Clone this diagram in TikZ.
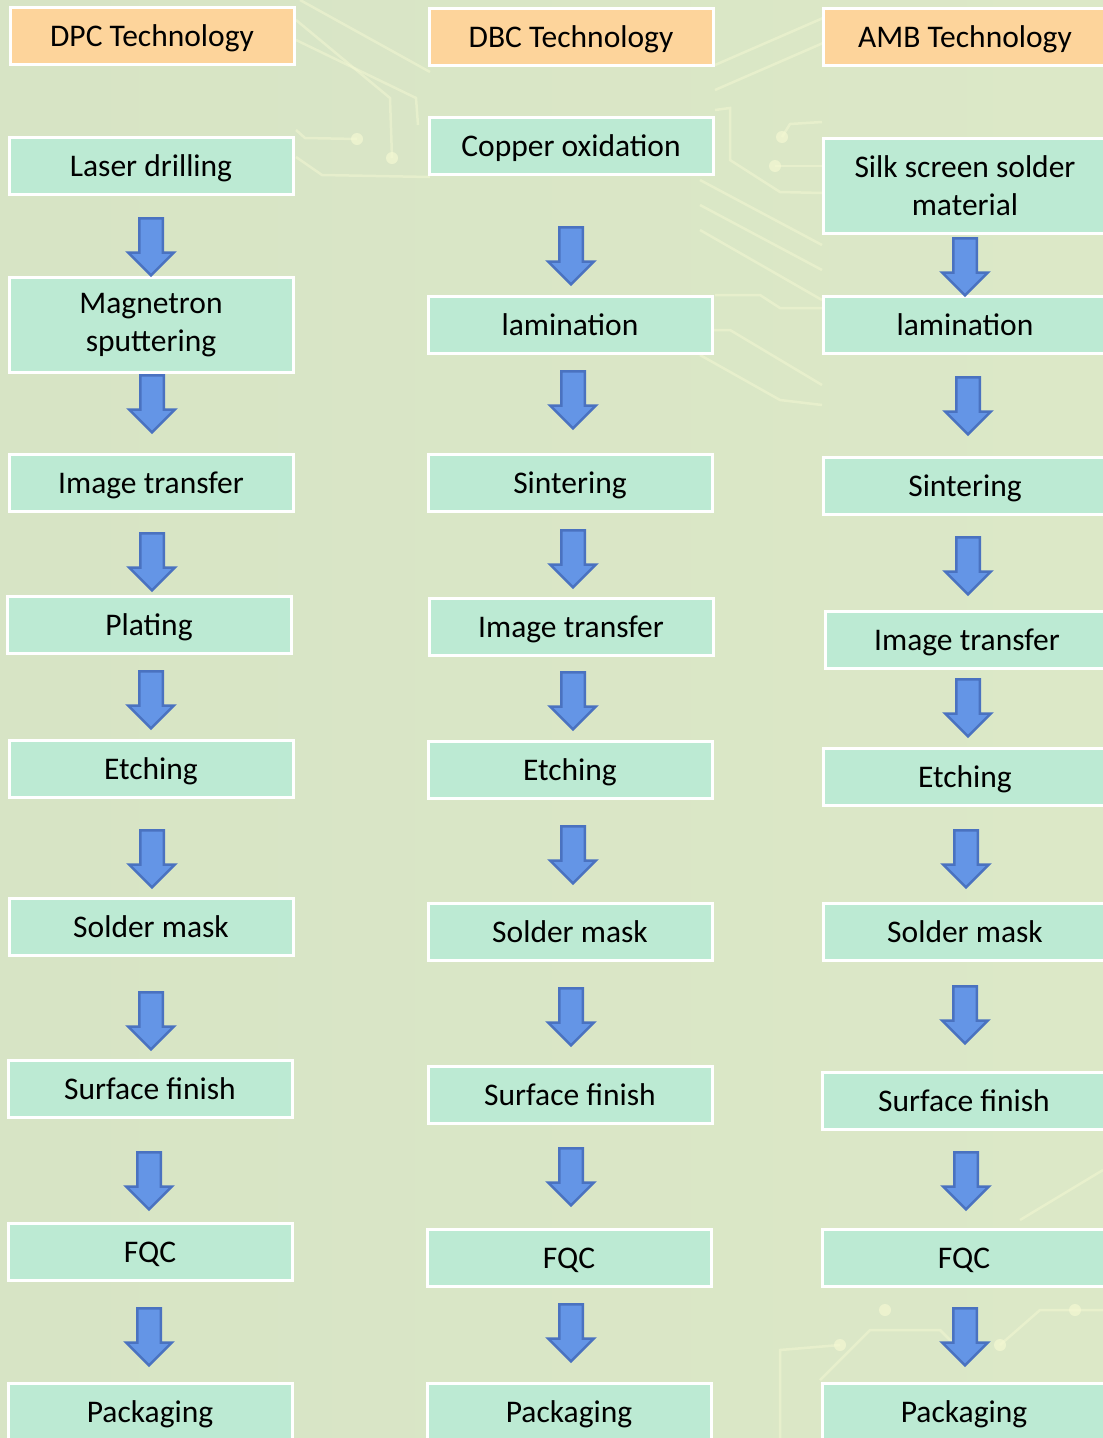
\documentclass[tikz,border=0pt]{standalone}
\usepackage{fontspec}
\setmainfont{Carlito}
\usetikzlibrary{shapes.arrows}

\definecolor{boxgreen}{HTML}{BCEAD3}
\definecolor{headorange}{HTML}{FDD49B}
\definecolor{arrowblue}{HTML}{6495E6}
\definecolor{arrowedge}{HTML}{4A72C0}
\definecolor{bgleft}{HTML}{D7E4C5}
\definecolor{bgmid}{HTML}{E8F3CF}
\definecolor{bgright}{HTML}{DCE8C7}
\definecolor{tracecol}{HTML}{F4F8D2}

\begin{document}
\begin{tikzpicture}[x=1pt, y=-1pt,
	boxbase/.style={draw=white, line width=3pt, minimum width=284pt, align=center, font=\fontsize{31.5}{38}\selectfont},
	stepbox/.style={boxbase, fill=boxgreen, minimum height=57pt, text height=21pt, text depth=0pt},
	tallbox/.style={boxbase, fill=boxgreen, minimum height=95pt},
	headbox/.style={stepbox, fill=headorange},
	downarrow/.style={single arrow, shape border rotate=270, draw=arrowedge, line width=2.5pt, fill=arrowblue,
		minimum height=57pt, inner xsep=10.5pt, inner ysep=0pt, single arrow head extend=11pt, single arrow head indent=0pt},
	trace/.style={draw=tracecol, line width=2.5pt, opacity=0.5},
	pad/.style={fill=tracecol, opacity=0.7}]
	\useasboundingbox (0,0) rectangle (1103,1438);
	\clip (0,0) rectangle (1103,1438);
	
	% background
	\shade [left color=bgleft, middle color=bgmid, right color=bgright] (0,0) rectangle (1103,1438);
	\draw [trace] (300,0) -- (430,72);
	\draw [trace] (296,20) -- (390,98) -- (392,158);
	\draw [trace] (296,40) -- (416,98) -- (418,125);
	\draw [trace] (296,130) -- (305,138) -- (357,139);
	\draw [trace] (296,157) -- (322,175) -- (430,177);
	\draw [trace] (715,65) -- (830,15);
	\draw [trace] (715,90) -- (830,40);
	\draw [trace] (715,110) -- (730,108) -- (730,160) -- (780,192) -- (822,193);
	\draw [trace] (782,137) -- (790,124) -- (822,122);
	\draw [trace] (775,166) -- (822,166);
	\draw [trace] (700,180) -- (822,245);
	\draw [trace] (700,205) -- (822,270);
	\draw [trace] (700,230) -- (822,300);
	\draw [trace] (715,295) -- (760,295) -- (780,308) -- (822,308);
	\draw [trace] (700,330) -- (730,330) -- (822,385);
	\draw [trace] (700,355) -- (780,400) -- (822,405);
	\draw [trace] (820,1380) -- (870,1330) -- (940,1330) -- (965,1355);
	\draw [trace] (780,1440) -- (780,1350) -- (840,1345);
	\draw [trace] (1000,1345) -- (1040,1310) -- (1103,1310);
	\draw [trace] (1020,1220) -- (1103,1170);
	\foreach \px/\py in {392/158, 357/139, 782/137, 775/166, 840/1345, 1000/1345, 885/1310, 1075/1310}
		\fill [pad] (\px,\py) circle (6);
	
	% headers
	\node [headbox] (dpc) at (152,36) {DPC Technology};
	\node [headbox] (dbc) at (571,37) {DBC Technology};
	\node [headbox] (amb) at (965,37) {AMB Technology};
	
	% DPC
	\node [stepbox] (dpc1) at (151,166) {Laser drilling};
	\node [tallbox] (dpc2) at (151,325) {Magnetron\\sputtering};
	\node [stepbox] (dpc3) at (151,483) {Image transfer};
	\node [stepbox] (dpc4) at (149,625) {Plating};
	\node [stepbox] (dpc5) at (151,769) {Etching};
	\node [stepbox] (dpc6) at (151,927) {Solder mask};
	\node [stepbox] (dpc7) at (150,1089) {Surface finish};
	\node [stepbox] (dpc8) at (150,1252) {FQC};
	\node [stepbox] (dpc9) at (150,1412) {Packaging};
	\foreach \ax/\ay [count=\i] in {151/241, 152/398, 152/556, 151/694, 152/853, 151/1015, 149/1175, 149/1331}
		\node [downarrow] (dpcarr\i) at (\ax,\ay) {};
	
	% DBC
	\node [stepbox] (dbc1) at (571,146) {Copper oxidation};
	\node [stepbox] (dbc2) at (570,325) {lamination};
	\node [stepbox] (dbc3) at (570,483) {Sintering};
	\node [stepbox] (dbc4) at (571,627) {Image transfer};
	\node [stepbox] (dbc5) at (570,770) {Etching};
	\node [stepbox] (dbc6) at (570,932) {Solder mask};
	\node [stepbox] (dbc7) at (570,1095) {Surface finish};
	\node [stepbox] (dbc8) at (569,1258) {FQC};
	\node [stepbox] (dbc9) at (569,1412) {Packaging};
	\foreach \ax/\ay [count=\i] in {571/250, 573/394, 573/553, 573/695, 573/849, 571/1011, 571/1171, 571/1327}
		\node [downarrow] (dbcarr\i) at (\ax,\ay) {};
	
	% AMB
	\node [tallbox] (amb1) at (965,186) {Silk screen solder\\material};
	\node [stepbox] (amb2) at (965,325) {lamination};
	\node [stepbox] (amb3) at (965,486) {Sintering};
	\node [stepbox] (amb4) at (967,640) {Image transfer};
	\node [stepbox] (amb5) at (965,777) {Etching};
	\node [stepbox] (amb6) at (965,932) {Solder mask};
	\node [stepbox] (amb7) at (964,1101) {Surface finish};
	\node [stepbox] (amb8) at (964,1258) {FQC};
	\node [stepbox] (amb9) at (964,1412) {Packaging};
	\foreach \ax/\ay [count=\i] in {965/261, 968/400, 968/560, 968/702, 966/853, 965/1009, 966/1175, 965/1331}
		\node [downarrow] (ambarr\i) at (\ax,\ay) {};
	
\end{tikzpicture}
\end{document}
